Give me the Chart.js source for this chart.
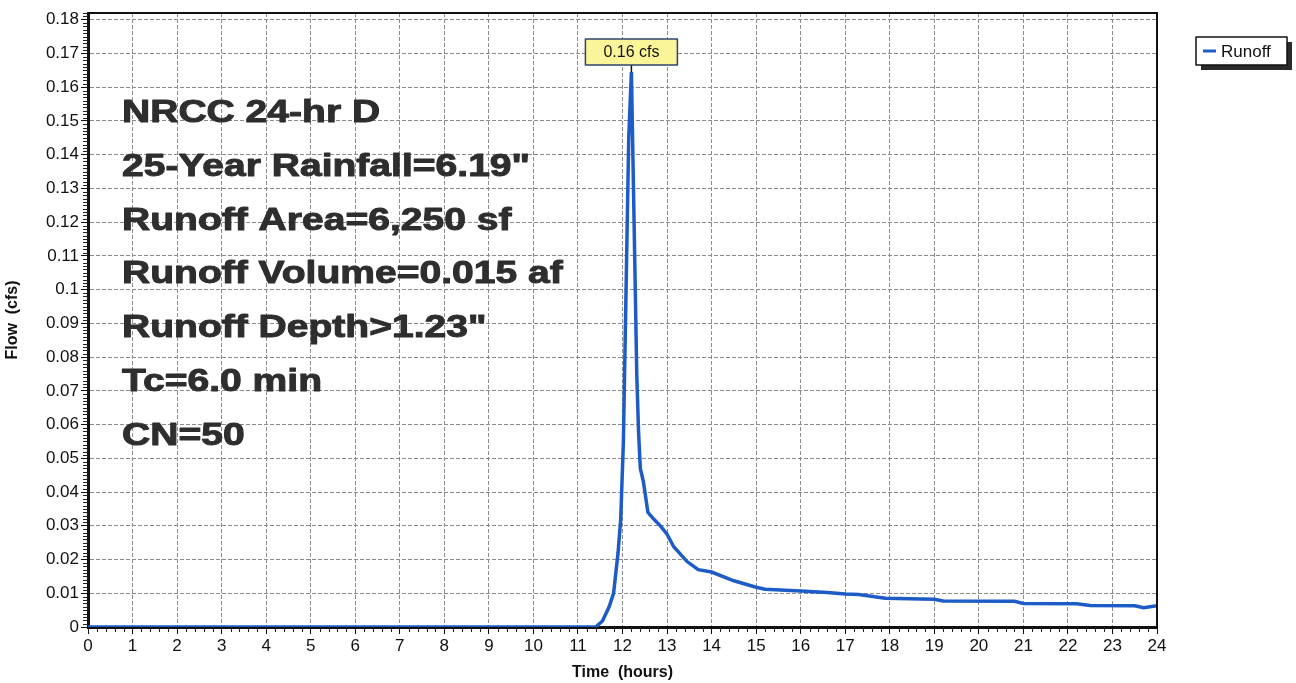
<!DOCTYPE html>
<html>
<head>
<meta charset="utf-8">
<script src="https://cdn.jsdelivr.net/npm/chart.js@4.4.1/dist/chart.umd.min.js"></script>
<style>
  html, body { margin: 0; padding: 0; background: #fff; }
  #wrap { width: 1296px; height: 683px; }
</style>
</head>
<body>
<div id="wrap"><canvas id="hydroChart"></canvas></div>
<script>
// Dados do hidrograma
const seriesName = "Runoff";
const timeHours = [0, 11.4, 11.55, 11.7, 11.8, 11.9, 11.96, 12.02, 12.08, 12.14, 12.2,
  12.26, 12.32, 12.36, 12.4, 12.47, 12.57, 12.7, 12.85, 13.0, 13.15, 13.45, 13.7, 14.0,
  14.5, 15.0, 15.2, 16.0, 16.6, 17.0, 17.3, 17.9, 19.0, 19.2, 20.8, 21.0, 22.2, 22.5,
  23.5, 23.7, 24.0];
const flowCfs = [0, 0, 0.0018, 0.006, 0.010, 0.022, 0.032, 0.055, 0.100, 0.145, 0.1645,
  0.120, 0.075, 0.058, 0.047, 0.043, 0.034, 0.032, 0.030, 0.0275, 0.0238, 0.0194, 0.0170,
  0.0163, 0.0137, 0.0118, 0.0112, 0.0107, 0.0102, 0.0098, 0.0096, 0.0085, 0.0082, 0.0077,
  0.0076, 0.0070, 0.0069, 0.0064, 0.0063, 0.0057, 0.0063];

const xTicks = [0, 1, 2, 3, 4, 5, 6, 7, 8, 9, 10, 11, 12, 13, 14, 15, 16, 17, 18, 19, 20,
  21, 22, 23, 24];
const yTicks = [0, 0.01, 0.02, 0.03, 0.04, 0.05, 0.06, 0.07, 0.08, 0.09, 0.1, 0.11, 0.12,
  0.13, 0.14, 0.15, 0.16, 0.17, 0.18];

const noteLines = [
  "NRCC 24-hr D",
  "25-Year Rainfall=6.19\"",
  "Runoff Area=6,250 sf",
  "Runoff Volume=0.015 af",
  "Runoff Depth>1.23\"",
  "Tc=6.0 min",
  "CN=50",
];
const peakLabel = "0.16 cfs";

const FONT = "'Liberation Sans', Arial, sans-serif";
const lineColor = "#1d5cc6";

// Moldura, ticks menores, texto, rótulo do pico e legenda
const extrasPlugin = {
  id: "extras",
  afterDraw(chart) {
    const ctx = chart.ctx;
    const area = chart.chartArea;
    const xs = chart.scales.x;
    const ys = chart.scales.y;
    ctx.save();

    // bordas de cima e da direita
    ctx.strokeStyle = "#111";
    ctx.lineWidth = 2;
    ctx.beginPath();
    ctx.moveTo(area.left, area.top);
    ctx.lineTo(area.right, area.top);
    ctx.lineTo(area.right, area.bottom);
    ctx.stroke();

    // ticks menores
    ctx.lineWidth = 1;
    ctx.strokeStyle = "#222";
    ctx.beginPath();
    for (let i = 0; i <= 182; i++) {
      if (i % 10 === 0) continue;
      const py = Math.round(ys.getPixelForValue(i / 1000)) + 0.5;
      ctx.moveTo(area.left - 5, py);
      ctx.lineTo(area.left, py);
    }
    for (let i = 0; i <= 120; i++) {
      if (i % 5 === 0) continue;
      const px = Math.round(xs.getPixelForValue(i / 5)) + 0.5;
      ctx.moveTo(px, area.bottom);
      ctx.lineTo(px, area.bottom + 5);
    }
    ctx.stroke();

    // bloco de texto
    ctx.fillStyle = "#2e2e2e";
    ctx.strokeStyle = "#2e2e2e";
    ctx.lineWidth = 1;
    ctx.lineJoin = "round";
    ctx.font = "bold 32px " + FONT;
    ctx.textBaseline = "alphabetic";
    ctx.textAlign = "left";
    noteLines.forEach((txt, i) => {
      ctx.save();
      ctx.translate(122, 122 + i * 53.8);
      ctx.scale(1.22, 1);
      ctx.fillText(txt, 0, 0);
      ctx.strokeText(txt, 0, 0);
      ctx.restore();
    });

    // rótulo do pico
    let iMax = 0;
    flowCfs.forEach((v, i) => { if (v > flowCfs[iMax]) iMax = i; });
    const px = xs.getPixelForValue(timeHours[iMax]);
    const py = ys.getPixelForValue(flowCfs[iMax]);
    const bw = 92, bh = 26;
    const bx = px - bw / 2, by = py - 7 - bh;
    ctx.strokeStyle = "#111";
    ctx.lineWidth = 1.5;
    ctx.beginPath();
    ctx.moveTo(px, by + bh);
    ctx.lineTo(px, py);
    ctx.stroke();
    ctx.fillStyle = "#fbf59a";
    ctx.fillRect(bx, by, bw, bh);
    ctx.strokeStyle = "#2d4470";
    ctx.strokeRect(bx, by, bw, bh);
    ctx.fillStyle = "#111";
    ctx.font = "16px " + FONT;
    ctx.textAlign = "center";
    ctx.textBaseline = "middle";
    ctx.fillText(peakLabel, px, by + bh / 2 + 1);

    // legenda
    const lx = 1196, ly = 37, lw = 91, lh = 28;
    ctx.fillStyle = "#2a2a2a";
    ctx.fillRect(lx + 5, ly + 5, lw, lh);
    ctx.fillStyle = "#fff";
    ctx.fillRect(lx, ly, lw, lh);
    ctx.strokeStyle = "#111";
    ctx.lineWidth = 1.5;
    ctx.strokeRect(lx, ly, lw, lh);
    ctx.strokeStyle = lineColor;
    ctx.lineWidth = 3;
    ctx.beginPath();
    ctx.moveTo(lx + 7, ly + lh / 2);
    ctx.lineTo(lx + 20, ly + lh / 2);
    ctx.stroke();
    ctx.fillStyle = "#111";
    ctx.font = "17px " + FONT;
    ctx.textAlign = "left";
    ctx.fillText(seriesName, lx + 25, ly + lh / 2 + 1);

    ctx.restore();
  },
};

const points = timeHours.map((t, i) => ({ x: t, y: flowCfs[i] }));

new Chart(document.getElementById("hydroChart"), {
  type: "line",
  data: {
    datasets: [
      {
        label: seriesName,
        data: points,
        borderColor: lineColor,
        borderWidth: 3.5,
        pointRadius: 0,
        tension: 0,
        fill: false,
      },
    ],
  },
  options: {
    responsive: true,
    maintainAspectRatio: false,
    animation: false,
    layout: { padding: { top: 13, right: 139, left: 0, bottom: 0 } },
    plugins: {
      legend: { display: false },
      tooltip: { enabled: false },
    },
    scales: {
      x: {
        type: "linear",
        min: 0,
        max: 24,
        afterFit: (s) => { s.height = 56; },
        afterBuildTicks: (s) => { s.ticks = xTicks.map((v) => ({ value: v })); },
        ticks: {
          color: "#111",
          font: { family: FONT, size: 17 },
          padding: 2,
          maxRotation: 0,
          autoSkip: false,
        },
        grid: {
          color: "#8c8c8c",
          lineWidth: 1,
          tickLength: 7,
          tickColor: "#111",
        },
        border: { color: "#111", width: 3, dash: [4, 2] },
        title: {
          display: true,
          text: "Time  (hours)",
          color: "#111",
          font: { family: FONT, size: 16, weight: "bold" },
          padding: { top: 0, bottom: 1 },
        },
      },
      y: {
        min: 0,
        max: 0.182,
        afterFit: (s) => { s.width = 88; },
        afterBuildTicks: (s) => { s.ticks = yTicks.map((v) => ({ value: v })); },
        ticks: {
          color: "#111",
          font: { family: FONT, size: 17 },
          padding: 2,
          autoSkip: false,
          callback: (v) => String(Number(v.toFixed(2))),
        },
        grid: {
          color: "#8c8c8c",
          lineWidth: 1,
          tickLength: 7,
          tickColor: "#111",
        },
        border: { color: "#111", width: 3, dash: [4, 2] },
        title: {
          display: true,
          text: "Flow  (cfs)",
          color: "#111",
          font: { family: FONT, size: 16, weight: "bold" },
          padding: { top: 3, bottom: 0 },
        },
      },
    },
  },
  plugins: [extrasPlugin],
});
</script>
</body>
</html>
